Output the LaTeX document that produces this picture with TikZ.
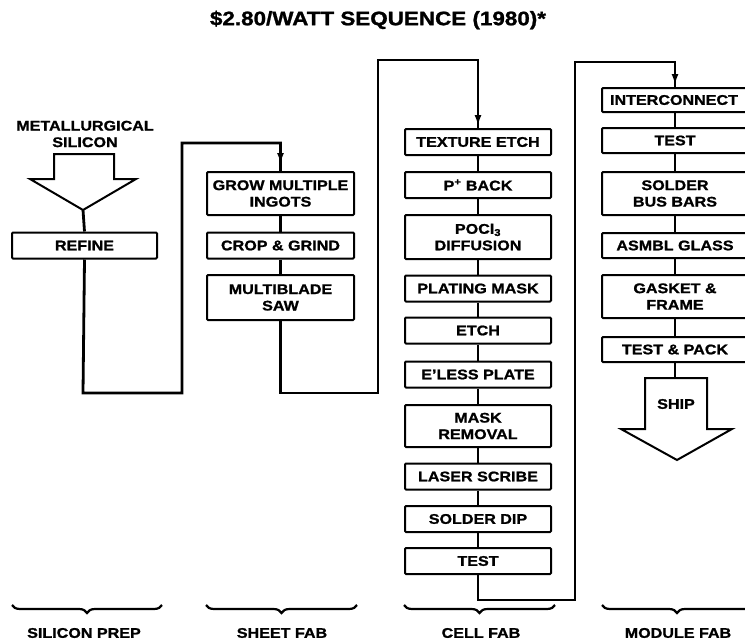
\documentclass[tikz,border=0pt]{standalone}
\usepackage{fontspec}
\setmainfont{Liberation Sans}[FakeStretch=1.15, BoldFeatures={FakeBold=1.2}]
\usetikzlibrary{arrows.meta,decorations.pathreplacing}
\begin{document}
\begin{tikzpicture}[x=1pt,y=-1pt,
  txt/.style={font=\bfseries\fontsize{14}{16.5}\selectfont, align=center, inner sep=0pt},
  box/.style={txt, draw, line width=2pt, rounded corners=1pt, minimum width=146pt, minimum height=26pt},
  tall/.style={box, minimum height=43pt},
  conn/.style={line width=2.8pt, line join=miter},
  blockarrow/.style={draw, line width=2pt, line join=miter, fill=white},
  bracestyle/.style={decorate, decoration={brace, mirror, amplitude=8pt}, line width=2.2pt},
  tipstyle/.style={-{Latex[length=11pt,width=7pt]}, line width=2.8pt}
]
\useasboundingbox (0,0) rectangle (745,643);
\clip (0,0) rectangle (745,643);

% title
\node[font=\bfseries\fontsize{19.5}{22}\selectfont, inner sep=0pt] (title) at (378,20) {\$2.80/WATT SEQUENCE (1980)*};

% ---- silicon prep ----
\node[txt] (metsi) at (85,134) {METALLURGICAL\\SILICON};
\draw[blockarrow] (54,154) -- (114,154) -- (114,179) -- (136,179) -- (83,210) -- (30,179) -- (54,179) -- cycle;
\coordinate (sitip) at (83,210);
\node[box, minimum width=145pt] (refine) at (84.5,245.5) {REFINE};
\draw[conn] (sitip) -- (refine.north);

% ---- sheet fab ----
\node[tall, minimum width=147pt] (grow) at (280.5,193.5) {GROW MULTIPLE\\INGOTS};
\node[box, minimum width=147pt] (crop) at (280.5,245.5) {CROP \& GRIND};
\node[tall, minimum width=147pt, minimum height=45pt] (saw) at (280.5,297.5) {MULTIBLADE\\SAW};
\draw[conn] (grow.south) -- (crop.north);
\draw[conn] (crop.south) -- (saw.north);

% ---- cell fab ----
\node[box] (tex) at (478,142) {TEXTURE ETCH};
\node[box] (pback) at (478,185) {P\textsuperscript{+} BACK};
\node[tall, minimum height=44pt] (pocl) at (478,237) {POCl\textsubscript{3}\\DIFFUSION};
\node[box] (pmask) at (478,288.5) {PLATING MASK};
\node[box] (etch) at (478,330.5) {ETCH};
\node[box] (eless) at (478,374.5) {E'LESS PLATE};
\node[tall, minimum height=42pt] (mrem) at (478,426) {MASK\\REMOVAL};
\node[box] (laser) at (478,476.5) {LASER SCRIBE};
\node[box] (sdip) at (478,519) {SOLDER DIP};
\node[box] (ctest) at (478,561) {TEST};
\foreach \a/\b in {tex/pback, pback/pocl, pocl/pmask, pmask/etch, etch/eless, eless/mrem, mrem/laser, laser/sdip, sdip/ctest}
  \draw[conn] (\a.south) -- (\b.north);

% ---- module fab ----
\node[box, minimum height=24pt] (inter) at (675,100) {\hspace*{-2pt}INTERCONNECT};
\node[box, minimum height=25pt] (mtest) at (675,140.5) {TEST};
\node[tall] (sbus) at (675,193.5) {SOLDER\\BUS BARS};
\node[box, minimum height=25pt] (asmbl) at (675,245.5) {ASMBL GLASS};
\node[tall] (gasket) at (675,296.5) {GASKET \&\\FRAME};
\node[box, minimum height=25pt] (tpack) at (675,349.5) {TEST \& PACK};
\foreach \a/\b in {inter/mtest, mtest/sbus, sbus/asmbl, asmbl/gasket, gasket/tpack}
  \draw[conn] (\a.south) -- (\b.north);
\draw[blockarrow] (645,378) -- (707,378) -- (707,429) -- (732,429) -- (677,460) -- (621,429) -- (645,429) -- cycle;
\node[txt] (ship) at (676,404) {SHIP};
\coordinate (shiptop) at (675,378);
\draw[conn] (tpack.south) -- (shiptop);

% ---- long connectors ----
\coordinate (a1) at (83,393);
\coordinate (a2) at (182,393);
\coordinate (a3) at (182,143);
\coordinate (a4) at (280.5,143);
\coordinate (a5) at (280.5,164);
\draw[conn] (refine.south) -- (a1) -- (a2) -- (a3) -- (a4) -- (grow.north);
\draw[tipstyle] (a4) -- (a5);

\coordinate (b1) at (280.5,393);
\coordinate (b2) at (378,393);
\coordinate (b3) at (378,60);
\coordinate (b4) at (478,60);
\coordinate (b5) at (478,126);
\draw[conn] (saw.south) -- (b1) -- (b2) -- (b3) -- (b4) -- (tex.north);
\draw[tipstyle] (b4) -- (b5);

\coordinate (c1) at (478,600);
\coordinate (c2) at (575,600);
\coordinate (c3) at (575,62);
\coordinate (c4) at (675,62);
\coordinate (c5) at (675,85);
\draw[conn] (ctest.south) -- (c1) -- (c2) -- (c3) -- (c4) -- (inter.north);
\draw[tipstyle] (c4) -- (c5);

% ---- braces ----
\coordinate (s1) at (12,605);   \coordinate (s2) at (162,605);
\coordinate (h1) at (206,605);  \coordinate (h2) at (357,605);
\coordinate (e1) at (404,605);  \coordinate (e2) at (555,605);
\coordinate (m1) at (602,605);  \coordinate (m2) at (752,605);
\draw[bracestyle] (s1) -- (s2);
\draw[bracestyle] (h1) -- (h2);
\draw[bracestyle] (e1) -- (e2);
\draw[bracestyle] (m1) -- (m2);
\node[txt] (lsp) at (84,633) {SILICON PREP};
\node[txt] (lsf) at (282,633) {SHEET FAB};
\node[txt] (lcf) at (481,633) {CELL FAB};
\node[txt] (lmf) at (678,633) {MODULE FAB};
\end{tikzpicture}
\end{document}
